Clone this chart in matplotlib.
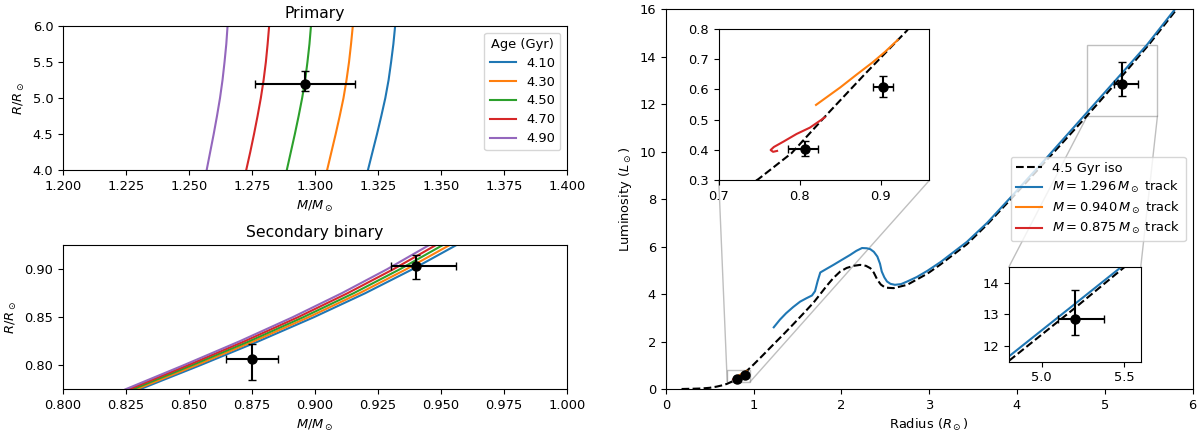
import matplotlib
matplotlib.use("Agg")
import matplotlib.pyplot as plt
from matplotlib.patches import Rectangle, ConnectionPatch

plt.rcParams["font.size"] = 9.4

# ---------------- primary: isochrones in the mass-radius plane
prim_radius = [4.0, 4.25, 4.5, 4.75, 5.0, 5.25, 5.5, 5.75, 6.0]
prim_ages = ["4.10", "4.30", "4.50", "4.70", "4.90"]
prim_mass = [
    [1.3210, 1.3228, 1.3246, 1.3263, 1.3279, 1.3292, 1.3302, 1.3311, 1.3318],
    [1.3048, 1.3065, 1.3082, 1.3098, 1.3113, 1.3125, 1.3135, 1.3143, 1.3150],
    [1.2888, 1.2904, 1.2920, 1.2935, 1.2949, 1.2961, 1.2970, 1.2978, 1.2984],
    [1.2727, 1.2743, 1.2758, 1.2772, 1.2785, 1.2796, 1.2805, 1.2812, 1.2818],
    [1.2570, 1.2584, 1.2598, 1.2611, 1.2623, 1.2633, 1.2641, 1.2648, 1.2653],
]
prim_obs_m, prim_obs_m_err = 1.296, 0.020
prim_obs_r, prim_obs_r_lo, prim_obs_r_hi = 5.20, 0.10, 0.18
prim_obs_l, prim_obs_l_lo, prim_obs_l_hi = 12.87, 0.53, 0.90

# ---------------- secondary binary: same isochrones, low-mass end
sec_radius = [0.775, 0.800, 0.825, 0.850, 0.875, 0.900, 0.925]
sec_mass = [
    [0.8305, 0.8544, 0.8776, 0.8995, 0.9199, 0.9387, 0.9560],
    [0.8291, 0.8528, 0.8757, 0.8974, 0.9176, 0.9362, 0.9533],
    [0.8277, 0.8511, 0.8739, 0.8953, 0.9153, 0.9337, 0.9506],
    [0.8262, 0.8495, 0.8720, 0.8932, 0.9129, 0.9311, 0.9479],
    [0.8248, 0.8478, 0.8701, 0.8911, 0.9106, 0.9286, 0.9452],
]
sec_obs_m = [0.875, 0.940]
sec_obs_m_lo = [0.0105, 0.010]
sec_obs_m_hi = [0.0105, 0.016]
sec_obs_r = [0.807, 0.903]
sec_obs_r_lo = [0.022, 0.013]
sec_obs_r_hi = [0.015, 0.012]
sec_obs_l = [0.403, 0.607]
sec_obs_l_lo = [0.022, 0.032]
sec_obs_l_hi = [0.028, 0.038]

# ---------------- radius-luminosity plane
iso_r = [0.18, 0.30, 0.40, 0.50, 0.58, 0.65, 0.70, 0.749, 0.79, 0.833, 0.88,
         0.932, 1.00, 1.10, 1.227, 1.34, 1.455, 1.57, 1.683, 1.76, 1.836,
         1.91, 1.987, 2.06, 2.139, 2.215, 2.28, 2.33, 2.37, 2.41, 2.45, 2.50,
         2.595, 2.75, 2.98, 3.13, 3.43, 3.66, 3.93, 4.34, 4.80, 5.20, 5.50,
         5.84]
iso_l = [0.00, 0.01, 0.02, 0.05, 0.10, 0.16, 0.22, 0.304, 0.39, 0.516, 0.65,
         0.794, 1.03, 1.40, 1.88, 2.30, 2.74, 3.19, 3.64, 4.00, 4.36,
         4.68, 4.95, 5.10, 5.19, 5.23, 5.19, 5.09, 4.90, 4.60, 4.40, 4.27,
         4.25, 4.39, 4.86, 5.25, 6.10, 6.93, 8.00, 9.65, 11.52, 13.20, 14.50,
         16.10]

trk1_r = [1.23, 1.30, 1.37, 1.45, 1.53, 1.60, 1.665, 1.70, 1.73, 1.76, 1.83,
          1.91, 2.00, 2.10, 2.17, 2.235, 2.29, 2.33, 2.37, 2.41, 2.44, 2.46,
          2.49, 2.52, 2.56, 2.61, 2.68, 2.75, 2.86, 2.98, 3.13, 3.43, 3.66,
          3.93, 4.34, 4.79, 5.20, 5.48, 5.82]
trk1_l = [2.60, 2.92, 3.19, 3.45, 3.68, 3.82, 3.94, 4.12, 4.55, 4.91, 5.06,
          5.23, 5.43, 5.65, 5.82, 5.94, 5.93, 5.89, 5.78, 5.58, 5.28, 4.95,
          4.70, 4.53, 4.43, 4.39, 4.42, 4.53, 4.72, 4.98, 5.35, 6.20, 7.00,
          8.08, 9.75, 11.62, 13.33, 14.50, 16.10]

trk2_r = [0.820, 0.835, 0.850, 0.870, 0.890, 0.905, 0.921]
trk2_l = [0.549, 0.578, 0.607, 0.649, 0.690, 0.724, 0.764]

trk3_r = [0.772, 0.767, 0.764, 0.768, 0.780, 0.796, 0.8125, 0.831]
trk3_l = [0.397, 0.394, 0.400, 0.410, 0.428, 0.453, 0.474, 0.508]

tracks = [
    (trk1_r, trk1_l, "C0", r"$M = 1.296\,M_\odot$ track"),
    (trk2_r, trk2_l, "C1", r"$M = 0.940\,M_\odot$ track"),
    (trk3_r, trk3_l, "C3", r"$M = 0.875\,M_\odot$ track"),
]
colors = ["C0", "C1", "C2", "C3", "C4"]

fig = plt.figure(figsize=(12, 4.34), dpi=100)

# ---- primary panel
ax1 = fig.add_axes([0.0525, 0.608, 0.42, 0.332])
for masses, age, c in zip(prim_mass, prim_ages, colors):
    ax1.plot(masses, prim_radius, color=c, label=age)
ax1.errorbar([prim_obs_m], [prim_obs_r], xerr=[[prim_obs_m_err], [prim_obs_m_err]],
             yerr=[[prim_obs_r_lo], [prim_obs_r_hi]], fmt="o", color="k",
             capsize=3, ms=6.5)
ax1.set_xlim(1.2, 1.4)
ax1.set_ylim(4.0, 6.0)
ax1.set_xticks([1.2 + 0.025 * i for i in range(9)])
ax1.set_xlabel(r"$M/M_\odot$")
ax1.set_ylabel(r"$R/R_\odot$")
ax1.set_title("Primary")
ax1.legend(title="Age (Gyr)", loc="upper right", labelspacing=0.45)

# ---- secondary panel
ax2 = fig.add_axes([0.0525, 0.103, 0.42, 0.332])
for masses, c in zip(sec_mass, colors):
    ax2.plot(masses, sec_radius, color=c)
ax2.errorbar(sec_obs_m, sec_obs_r, xerr=[sec_obs_m_lo, sec_obs_m_hi],
             yerr=[sec_obs_r_lo, sec_obs_r_hi], fmt="o", color="k",
             capsize=3, ms=6.5, ls="none")
ax2.set_xlim(0.8, 1.0)
ax2.set_ylim(0.775, 0.925)
ax2.set_xticks([0.8 + 0.025 * i for i in range(9)])
ax2.set_yticks([0.80, 0.85, 0.90])
ax2.set_xlabel(r"$M/M_\odot$")
ax2.set_ylabel(r"$R/R_\odot$")
ax2.set_title("Secondary binary")

# ---- radius-luminosity panel
ax3 = fig.add_axes([0.5548, 0.1037, 0.439, 0.8749])


def draw_rl(ax, labels=False):
    ax.plot(iso_r, iso_l, "k--", label="4.5 Gyr iso" if labels else None)
    for r, l, c, lab in tracks:
        ax.plot(r, l, color=c, label=lab if labels else None)
    ax.errorbar(sec_obs_r + [prim_obs_r], sec_obs_l + [prim_obs_l],
                xerr=[sec_obs_r_lo + [prim_obs_r_lo], sec_obs_r_hi + [prim_obs_r_hi]],
                yerr=[sec_obs_l_lo + [prim_obs_l_lo], sec_obs_l_hi + [prim_obs_l_hi]],
                fmt="o", color="k", capsize=3, ms=6.5, ls="none")


draw_rl(ax3, labels=True)
ax3.set_xlim(0, 6)
ax3.set_ylim(0, 16)
ax3.set_yticks(range(0, 17, 2))
ax3.set_xlabel(r"Radius ($R_\odot$)")
ax3.set_ylabel(r"Luminosity ($L_\odot$)")
ax3.legend(loc="center right", labelspacing=0.33)

ins1 = ax3.inset_axes([0.1006, 0.5497, 0.40, 0.3985])
draw_rl(ins1)
ins1.set_xlim(0.7, 0.96)
ins1.set_ylim(0.3, 0.8)
ins1.set_xticks([0.7, 0.8, 0.9])

ins2 = ax3.inset_axes([0.651, 0.072, 0.2506, 0.2486])
draw_rl(ins2)
ins2.set_xlim(4.8, 5.6)
ins2.set_ylim(11.5, 14.5)
ins2.set_xticks([5.0, 5.5])
ins2.set_yticks([12, 13, 14])

# zoom markers and connectors
for ins, corners in [(ins1, [((0, 0), (0, 0)), ((1, 0), (1, 0))]),
                     (ins2, [((0, 0), (0, 1)), ((1, 0), (1, 1))])]:
    x0, x1 = ins.get_xlim()
    y0, y1 = ins.get_ylim()
    ax3.add_patch(Rectangle((x0, y0), x1 - x0, y1 - y0, fill=False,
                            ec="0.5", alpha=0.5, lw=1, zorder=1))
    for (rx, ry), (ix, iy) in corners:
        cp = ConnectionPatch(xyA=(x0 + rx * (x1 - x0), y0 + ry * (y1 - y0)),
                             coordsA=ax3.transData, xyB=(ix, iy),
                             coordsB=ins.transAxes, color="0.5", alpha=0.5,
                             lw=1, zorder=1)
        ax3.add_artist(cp)

fig.savefig("out.png", dpi=100)
